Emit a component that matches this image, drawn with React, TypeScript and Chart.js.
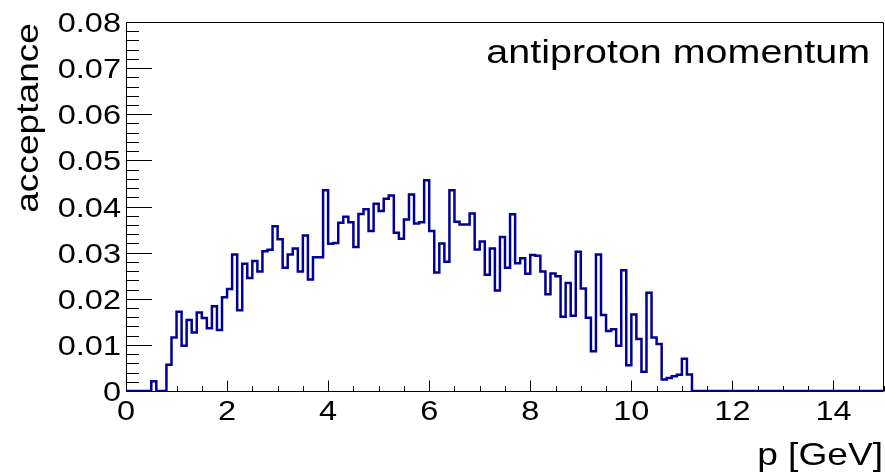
import React, { useEffect, useRef } from "react";
import { Chart, registerables } from "chart.js";

Chart.register(...registerables);

// Histogram settings: 150 bins of 0.1 GeV from 0 to 15 GeV
const xMin = 0;
const xMax = 15;
const binWidth = 0.1;

// Acceptance per momentum bin
const acceptance: number[] = [
  0, 0, 0, 0, 0, 0.0021, 0, 0, 0.0057, 0.0116,
  0.0172, 0.0098, 0.0154, 0.0127, 0.0170, 0.0158, 0.0136, 0.0184, 0.0132, 0.0203,
  0.0221, 0.0296, 0.0175, 0.0276, 0.0245, 0.0282, 0.0259, 0.0303, 0.0306, 0.0357,
  0.0329, 0.0267, 0.0296, 0.0309, 0.0259, 0.0337, 0.0242, 0.0290, 0.0290, 0.0435,
  0.0319, 0.0321, 0.0365, 0.0378, 0.0366, 0.0312, 0.0384, 0.0394, 0.0347, 0.0406,
  0.0390, 0.0417, 0.0424, 0.0343, 0.0330, 0.0372, 0.0426, 0.0363, 0.0366, 0.0457,
  0.0347, 0.0257, 0.0320, 0.0280, 0.0435, 0.0367, 0.0361, 0.0361, 0.0385, 0.0307,
  0.0324, 0.0252, 0.0309, 0.0218, 0.0334, 0.0267, 0.0383, 0.0277, 0.0288, 0.0254,
  0.0295, 0.0293, 0.0259, 0.0210, 0.0255, 0.0249, 0.0161, 0.0234, 0.0163, 0.0302,
  0.0222, 0.0159, 0.0086, 0.0296, 0.0165, 0.0130, 0.0134, 0.0098, 0.0262, 0.0056,
  0.0166, 0.0113, 0.0042, 0.0213, 0.0116, 0.0102, 0.0025, 0.0028, 0.0032, 0.0035,
  0.0070, 0.0036, 0, 0, 0, 0, 0, 0, 0, 0,
  0, 0, 0, 0, 0, 0, 0, 0, 0, 0,
  0, 0, 0, 0, 0, 0, 0, 0, 0, 0,
  0, 0, 0, 0, 0, 0, 0, 0, 0, 0,
];

const xTickValues = [0, 2, 4, 6, 8, 10, 12, 14];
const xTickLabels = ["0", "2", "4", "6", "8", "10", "12", "14"];
const yTickValues = [0, 0.01, 0.02, 0.03, 0.04, 0.05, 0.06, 0.07, 0.08];
const yTickLabels = ["0", "0.01", "0.02", "0.03", "0.04", "0.05", "0.06", "0.07", "0.08"];

const xTitle = "p [GeV]";
const yTitle = "acceptance";
const histTitle = "antiproton momentum";

const FONT = '"Liberation Sans", Arial, Helvetica, sans-serif';
const STRETCH = 1.16;
const LINE_COLOR = "#000099";

function drawText(
  ctx: CanvasRenderingContext2D,
  s: string,
  x: number,
  y: number,
  size: number,
  align: CanvasTextAlign,
  rotate = 0
) {
  ctx.save();
  ctx.translate(x, y);
  if (rotate) ctx.rotate(rotate);
  ctx.scale(STRETCH, 1);
  ctx.font = `${size}px ${FONT}`;
  ctx.textAlign = align;
  ctx.textBaseline = "alphabetic";
  ctx.fillStyle = "#000";
  ctx.fillText(s, 0, 0);
  ctx.restore();
}

const framePlugin = {
  id: "rootFrame",
  beforeDatasetsDraw(chart: any) {
    const { ctx, chartArea, scales } = chart;
    const { left, right, top, bottom } = chartArea;
    const xs = scales.x;
    const ys = scales.y;
    ctx.save();
    ctx.strokeStyle = "#000";
    ctx.lineWidth = 1;
    ctx.beginPath();
    ctx.rect(left + 0.5, top + 0.5, right - left - 1, bottom - top);
    ctx.stroke();

    // y-axis ticks (inside the frame)
    ctx.beginPath();
    for (let k = 0; k <= 40; k++) {
      const v = k * 0.002;
      const py = Math.round(ys.getPixelForValue(v)) + 0.5;
      const len = k % 5 === 0 ? 26 : 13;
      ctx.moveTo(left, py);
      ctx.lineTo(left + len, py);
    }
    // x-axis ticks
    for (let k = 0; k <= 30; k++) {
      const v = k * 0.5;
      const px = Math.round(xs.getPixelForValue(v)) + 0.5;
      const len = k % 4 === 0 ? 11 : 5.5;
      ctx.moveTo(px, bottom + 0.5);
      ctx.lineTo(px, bottom + 0.5 - len);
    }
    ctx.stroke();
    ctx.restore();
  },
  afterDraw(chart: any) {
    const { ctx, chartArea, scales } = chart;
    const xs = scales.x;
    const ys = scales.y;
    const tickSize = 28;
    yTickValues.forEach((v, i) => {
      const py = ys.getPixelForValue(v);
      drawText(ctx, yTickLabels[i], 121, py + tickSize * 0.358, tickSize, "right");
    });
    xTickValues.forEach((v, i) => {
      const px = xs.getPixelForValue(v);
      drawText(ctx, xTickLabels[i], px, 420, tickSize, "center");
    });
    drawText(ctx, xTitle, chartArea.right - 1, 465, 32, "right");
    drawText(ctx, yTitle, 38, chartArea.top + 1, 32, "right", -Math.PI / 2);
    drawText(ctx, histTitle, 870, 63, 34, "right");
  },
};

export default function App() {
  const canvasRef = useRef<HTMLCanvasElement | null>(null);

  useEffect(() => {
    const canvas = canvasRef.current;
    if (!canvas) return;
    const points = acceptance.map((v, i) => ({ x: xMin + i * binWidth, y: v }));
    points.push({ x: xMax, y: acceptance[acceptance.length - 1] });

    const chart = new Chart(canvas, {
      type: "line",
      data: {
        datasets: [
          {
            data: points,
            borderColor: LINE_COLOR,
            borderWidth: 2.5,
            stepped: true,
            pointRadius: 0,
            fill: false,
            tension: 0,
          },
        ],
      },
      options: {
        animation: false,
        responsive: false,
        devicePixelRatio: 1,
        layout: { padding: { left: 126, right: 1, top: 22, bottom: 85 } },
        plugins: { legend: { display: false }, tooltip: { enabled: false } },
        scales: {
          x: { type: "linear", min: xMin, max: xMax, display: false },
          y: { type: "linear", min: 0, max: 0.08, display: false },
        },
      },
      plugins: [framePlugin],
    });
    return () => chart.destroy();
  }, []);

  return (
    <div style={{ position: "fixed", left: 0, top: 0, width: 885, height: 476, background: "#fff" }}>
      <canvas ref={canvasRef} width={885} height={476} />
    </div>
  );
}
